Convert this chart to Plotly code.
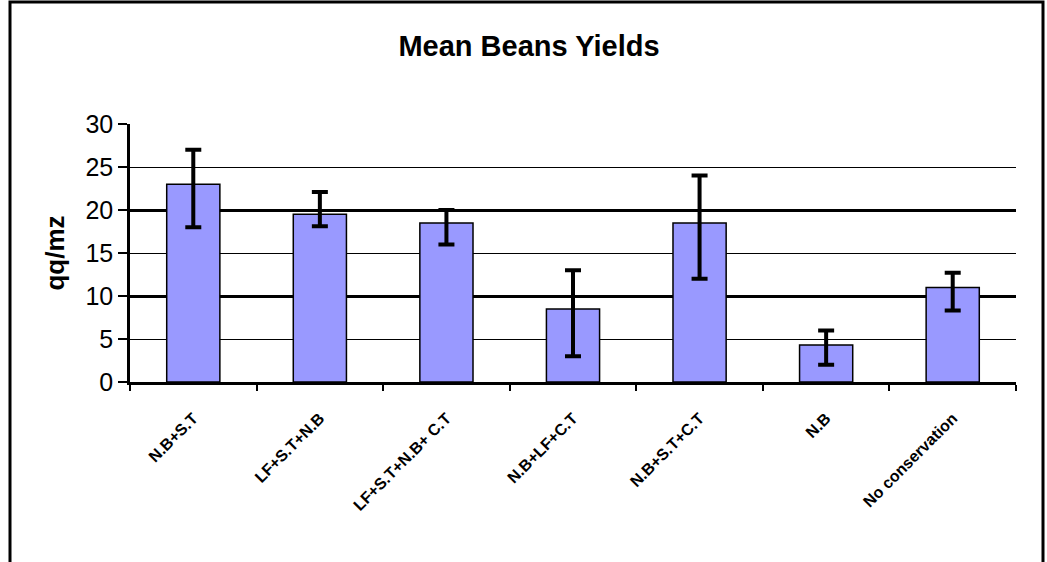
import plotly.graph_objects as go

categories = ["N.B+S.T", "LF+S.T+N.B", "LF+S.T+N.B+ C.T", "N.B+LF+C.T",
              "N.B+S.T+C.T", "N.B", "No conservation"]
mean_yield = [23.0, 19.5, 18.5, 8.5, 18.5, 4.3, 11.0]
err_plus = [4.0, 2.6, 1.5, 4.5, 5.5, 1.7, 1.7]
err_minus = [5.0, 1.4, 2.5, 5.5, 6.5, 2.3, 2.7]
y_ticks = [0, 5, 10, 15, 20, 25, 30]

FONT = "Arial, Liberation Sans, sans-serif"
W, H = 1047, 562
L, R, T, B = 130, 31, 124, 180
pw, ph = W - L - R, H - T - B

fig = go.Figure()
fig.add_trace(go.Bar(
    x=categories, y=mean_yield,
    marker=dict(color="#9999FF", line=dict(color="black", width=1.5)),
    error_y=dict(type="data", symmetric=False, array=err_plus, arrayminus=err_minus,
                 color="black", thickness=4, width=8),
    showlegend=False,
))
# invisible trace on overlay axis to carry the heavier gridlines
fig.add_trace(go.Scatter(x=categories, y=mean_yield, yaxis="y2", mode="none",
                         showlegend=False, hoverinfo="skip"))

fig.update_layout(
    width=W, height=H,
    margin=dict(l=L, r=R, t=T, b=B, autoexpand=False),
    paper_bgcolor="white", plot_bgcolor="white",
    bargap=0.58,
    font=dict(family=FONT, color="black"),
    title=dict(text="<b>Mean Beans Yields</b>", x=(529 - L) / pw, xref="paper",
               xanchor="center", y=1 - 46 / H, yanchor="middle",
               font=dict(size=29, family=FONT, color="black")),
    xaxis=dict(
        automargin=False,
        showline=True, linecolor="black", linewidth=2.5,
        ticks="outside", tickson="boundaries", ticklen=6, tickwidth=2, tickcolor="black",
        tickangle=-45, tickfont=dict(size=16, family=FONT, color="black", weight="bold"),
        ticklabelstandoff=18,
        showgrid=False, zeroline=False,
    ),
    yaxis=dict(
        automargin=False,
        range=[0, 30], tickvals=y_ticks,
        showline=True, linecolor="black", linewidth=2.5,
        ticks="outside", ticklen=9, tickwidth=2, tickcolor="black",
        tickfont=dict(size=25, family=FONT, color="black"),
        showgrid=True, gridcolor="black", gridwidth=1.3,
        zeroline=False,
        title=dict(text="<b>qq/mz</b>", font=dict(size=26, family=FONT, color="black"),
                   standoff=14),
    ),
    yaxis2=dict(
        range=[0, 30], overlaying="y", side="left", dtick=10,
        showticklabels=False, ticks="", showline=False, zeroline=False,
        showgrid=True, gridcolor="black", gridwidth=2.5,
    ),
    shapes=[dict(
        type="rect", xref="paper", yref="paper",
        x0=(10 - L) / pw, x1=(1043 - L) / pw,
        y0=(T + ph - 575) / ph, y1=(T + ph - 2) / ph,
        line=dict(color="black", width=3), fillcolor="rgba(0,0,0,0)", layer="below",
    )],
)

fig.write_html("out.html", config={"displayModeBar": False},
               post_script="document.body.style.margin='0';")
